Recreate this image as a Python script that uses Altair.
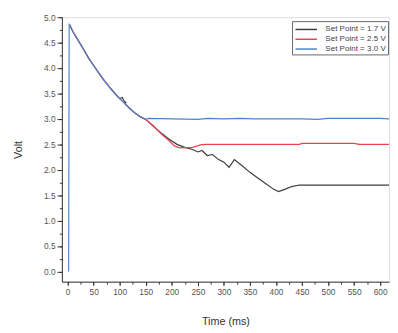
import altair as alt
import pandas as pd

# shared initial decay (ms, V)
decay_t = [4, 10, 20, 30, 40, 50, 60, 70, 80, 90, 100, 110, 120, 130, 140, 150]
decay_v = [4.85, 4.72, 4.55, 4.38, 4.2, 4.05, 3.9, 3.76, 3.63, 3.51, 3.4, 3.3, 3.2, 3.11, 3.04, 2.99]

black_t = [105, 108, 112, 165, 180, 195, 210, 225, 240, 250, 258, 268, 278, 290, 300, 310, 320, 335, 350, 365, 380, 395, 405, 418, 430, 445, 480, 520, 560, 600, 617]
black_v = [3.42, 3.36, 3.32, 2.85, 2.72, 2.6, 2.5, 2.44, 2.4, 2.35, 2.38, 2.28, 2.3, 2.2, 2.15, 2.05, 2.2, 2.08, 1.95, 1.84, 1.73, 1.62, 1.57, 1.62, 1.67, 1.7, 1.7, 1.7, 1.7, 1.7, 1.7]

red_t = [165, 180, 195, 205, 215, 240, 255, 265, 300, 350, 400, 445, 450, 500, 550, 560, 600, 617]
red_v = [2.86, 2.7, 2.57, 2.47, 2.43, 2.44, 2.49, 2.5, 2.5, 2.5, 2.5, 2.5, 2.52, 2.52, 2.52, 2.5, 2.5, 2.5]

blue_t = [2, 3]
blue_v = [0.0, 4.85]
blue_tail_t = [155, 200, 250, 270, 300, 330, 360, 400, 450, 480, 500, 550, 600, 617]
blue_tail_v = [3.01, 3.0, 2.99, 3.01, 3.0, 3.01, 3.0, 3.0, 3.0, 2.99, 3.01, 3.01, 3.01, 3.0]

series = ["Set Point = 1.7 V", "Set Point = 2.5 V", "Set Point = 3.0 V"]
colors = ["#3d3d3d", "#e8434f", "#4a84cc"]

rows = []
def add(name, ts, vs):
    for t, v in zip(ts, vs):
        rows.append({"t": t, "v": v, "s": name})

bt = decay_t[:11] + black_t[:3] + decay_t[11:] + black_t[3:]
bv = decay_v[:11] + black_v[:3] + decay_v[11:] + black_v[3:]
add(series[0], bt, bv)
add(series[1], decay_t + red_t, decay_v + red_v)
add(series[2], blue_t + decay_t[1:] + blue_tail_t, blue_v + decay_v[1:] + blue_tail_v)
df = pd.DataFrame(rows)
df["o"] = df["s"].map({series[0]: 0, series[1]: 1, series[2]: 2})

x_major = list(range(0, 601, 50))
x_minor = list(range(0, 616, 25))
y_major = [i * 0.5 for i in range(0, 11)]
y_minor = [i * 0.25 for i in range(0, 21)]

xdom = [-11, 617]
ydom = [-0.2, 5.0]

base = alt.Chart(df)

lines = base.mark_line(strokeWidth=1.2, clip=True).encode(
    x=alt.X("t:Q", scale=alt.Scale(domain=xdom, nice=False, zero=False),
            axis=alt.Axis(values=x_major, title="Time (ms)", format="d", grid=False,
                          tickSize=4, labelFontSize=8.5, labelColor="#555", titleFontSize=11,
                          titleFontWeight="normal", titleColor="#333", titlePadding=20,
                          domainColor="#333", tickColor="#333", labelFont="Liberation Sans",
                          titleFont="Liberation Sans")),
    y=alt.Y("v:Q", scale=alt.Scale(domain=ydom, nice=False, zero=False),
            axis=alt.Axis(values=y_major, title="Volt", format=".1f", grid=False,
                          tickSize=5, labelFontSize=8.5, labelColor="#555", titleFontSize=11,
                          titleFontWeight="normal", titleColor="#333", titlePadding=20,
                          domainColor="#333", tickColor="#333", labelFont="Liberation Sans",
                          titleFont="Liberation Sans")),
    color=alt.Color("s:N", scale=alt.Scale(domain=series, range=colors),
                    legend=alt.Legend(title=None, orient="none", legendX=235, legendY=4,
                                      symbolType="M-2,0H2", symbolSize=121, symbolStrokeWidth=1.5,
                                      symbolOffset=6, labelOffset=13, labelFontSize=8.2,
                                      labelColor="#444", rowPadding=0,
                                      strokeColor="#666", padding=2, labelFont="Liberation Sans",
                                      fillColor="white")),
    order=alt.Order("o:Q"),
    detail="s:N",
)

minor = base.mark_line(opacity=0).encode(
    x=alt.X("t:Q", scale=alt.Scale(domain=xdom, nice=False, zero=False),
            axis=alt.Axis(values=x_minor, orient="bottom", labels=False, title=None, grid=False,
                          tickSize=2.5, domain=False, tickColor="#333")),
    y=alt.Y("v:Q", scale=alt.Scale(domain=ydom, nice=False, zero=False),
            axis=alt.Axis(values=y_minor, orient="left", labels=False, title=None, grid=False,
                          tickSize=2.5, domain=False, tickColor="#333")),
    detail="s:N",
)

chart = alt.layer(lines, minor).resolve_axis(x="independent", y="independent").properties(
    width=334, height=270,
    autosize=alt.AutoSizeParams(type="none"),
    padding={"left": 55, "top": 6, "right": 1, "bottom": 49},
).configure_view(stroke=None).configure(background="white")

chart.save("out.html", embed_options={"renderer": "svg", "actions": False})
